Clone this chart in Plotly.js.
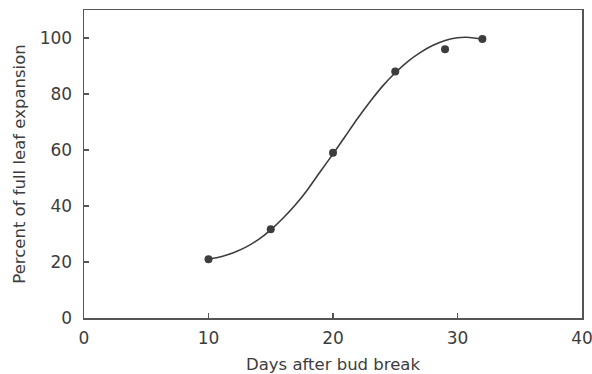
<!DOCTYPE html>
<html>
<head>
<meta charset="utf-8">
<script src="https://cdn.plot.ly/plotly-3.0.1.min.js"></script>
<style>html,body{margin:0;padding:0;background:#fff;}#chart{width:592px;height:374px;}</style>
</head>
<body>
<div id="chart"></div>
<script>
// Observed data points
var obsDays = [10, 15, 20, 25, 29, 32];
var obsPercent = [21.0, 31.7, 59.0, 88.0, 96.0, 99.6];

// Fitted curve
var fitDays = [10, 11, 12, 13, 14, 15, 16, 17, 18, 19, 20, 21, 22, 23, 24, 25, 26, 27, 28, 29, 30, 31, 32];
var fitPercent = [21.0, 21.9, 23.3, 25.3, 28.0, 31.5, 35.7, 40.5, 46.1, 52.4, 58.6, 65.0, 71.4, 77.4, 82.9, 87.6, 91.6, 94.8, 97.3, 99.1, 100.1, 100.2, 99.6];

var xTicks = [0, 10, 20, 30, 40];
var yTicks = [0, 20, 40, 60, 80, 100];

var fontFam = 'DejaVu Sans, sans-serif';
var ink = '#3d3d3d';

var traces = [
  {x: fitDays, y: fitPercent, mode: 'lines', type: 'scatter',
   line: {color: ink, width: 1.6, shape: 'spline', smoothing: 0.5}, hoverinfo: 'skip'},
  {x: obsDays, y: obsPercent, mode: 'markers', type: 'scatter',
   marker: {color: ink, size: 8, symbol: 'circle'}}
];

var axisCommon = {
  showgrid: false, zeroline: false, showline: true, mirror: true,
  linecolor: '#555', linewidth: 1.5,
  ticks: 'inside', ticklen: 5, tickwidth: 1.2, tickcolor: '#555',
  ticklabeloverflow: 'allow',
  tickfont: {family: fontFam, size: 17, color: ink}
};

var layout = {
  width: 592, height: 374,
  margin: {l: 84, r: 10, t: 10, b: 56},
  paper_bgcolor: '#fff', plot_bgcolor: '#fff',
  showlegend: false,
  xaxis: Object.assign({}, axisCommon, {
    range: [0, 40], tickmode: 'array', tickvals: xTicks,
    ticktext: xTicks.map(String), ticklabelstandoff: 4,
    title: {text: 'Days after bud break', font: {family: fontFam, size: 16.5, color: ink}, standoff: 11}
  }),
  yaxis: Object.assign({}, axisCommon, {
    range: [0, 110], tickmode: 'array', tickvals: yTicks,
    ticktext: yTicks.map(String), ticklabelstandoff: 7,
    title: {text: 'Percent of full leaf expansion', font: {family: fontFam, size: 16.5, color: ink}, standoff: 10}
  })
};

Plotly.newPlot('chart', traces, layout, {displayModeBar: false, staticPlot: true});
</script>
</body>
</html>
